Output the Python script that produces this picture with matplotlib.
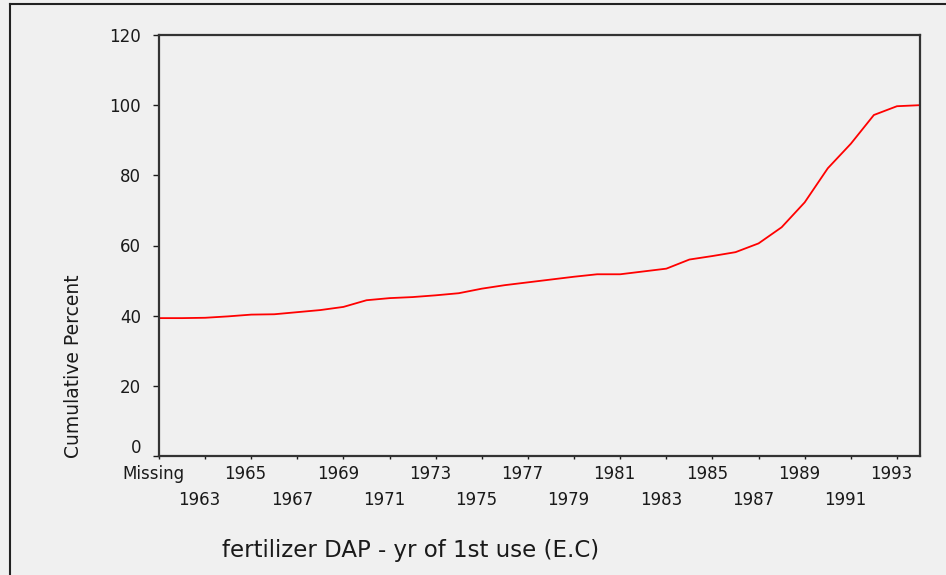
import matplotlib
matplotlib.use("Agg")
import matplotlib.pyplot as plt
import matplotlib.transforms as mtransforms
from matplotlib.lines import Line2D

# categories on the x axis (first one is the missing-value bucket)
categories = ["Missing", "1962", "1963", "1964", "1965", "1966", "1967", "1968",
              "1969", "1970", "1971", "1972", "1973", "1974", "1975", "1976",
              "1977", "1978", "1979", "1980", "1981", "1982", "1983", "1984",
              "1985", "1986", "1987", "1988", "1989", "1990", "1991", "1992",
              "1993", "1994"]

# cumulative percent
cum_percent = [39.3, 39.3, 39.4, 39.8, 40.3, 40.4, 41.0, 41.6, 42.5, 44.4,
               45.0, 45.3, 45.8, 46.4, 47.7, 48.7, 49.5, 50.3, 51.1, 51.8,
               51.8, 52.6, 53.4, 56.0, 57.0, 58.1, 60.6, 65.2, 72.3, 82.0,
               89.0, 97.2, 99.7, 100.0]

y_ticks = [0, 20, 40, 60, 80, 100, 120]

bg = "#f0f0f0"
W, H = 946, 575

plt.rcParams["font.family"] = "DejaVu Sans"

fig = plt.figure(figsize=(W / 100, H / 100), dpi=100, facecolor=bg)
ax = fig.add_axes([159 / W, 1 - 456 / H, (920 - 159) / W, (456 - 35) / H])
ax.set_facecolor(bg)

x = list(range(len(categories)))
ax.plot(x, cum_percent, color="#ff0000", linewidth=1.3)

ax.set_xlim(0, len(categories) - 1)
ax.set_ylim(0, 120)

# y axis
ax.set_yticks(y_ticks)
ax.set_yticklabels([str(v) for v in y_ticks])
ax.tick_params(axis="y", direction="out", length=4, width=1, pad=9,
               labelsize=12, colors="#1a1a1a")
# the zero label sits a little above its tick, clear of "Missing"
lift = mtransforms.ScaledTranslation(0, 7 / 72, fig.dpi_scale_trans)
zero_lab = ax.get_yticklabels()[0]
zero_lab.set_transform(zero_lab.get_transform() + lift)

# x axis: every second category labelled, in two staggered rows
row1 = x[0::4]
row2 = x[2::4]
ax.set_xticks(row1)
ax.set_xticklabels([categories[i] for i in row1])
ax.set_xticks(row2, minor=True)
ax.set_xticklabels([categories[i] for i in row2], minor=True)
ax.tick_params(axis="x", which="major", direction="out", length=2.5, width=1,
               pad=4, labelsize=12, colors="#1a1a1a")
ax.tick_params(axis="x", which="minor", direction="out", length=2.5, width=1,
               pad=23, labelsize=12, colors="#1a1a1a")

shift = mtransforms.ScaledTranslation(-4 / 72, 0, fig.dpi_scale_trans)
for lab in ax.get_xticklabels(which="both"):
    lab.set_transform(lab.get_transform() + shift)

for s in ax.spines.values():
    s.set_color("#333333")
    s.set_linewidth(1.6)

fig.text(73 / W, 1 - 366 / H, "Cumulative Percent", fontsize=13.5,
         color="#1a1a1a", rotation=90, ha="center", va="center")
fig.text(222 / W, 1 - 551 / H, "fertilizer DAP - yr of 1st use (E.C)",
         fontsize=16.5, color="#1a1a1a", ha="left", va="center")

# outer frame (left and top edges visible)
fig.add_artist(Line2D([10 / W, 10 / W], [0, 1 - 4 / H], transform=fig.transFigure,
                      color="#222222", linewidth=1.5))
fig.add_artist(Line2D([10 / W, 1], [1 - 4 / H, 1 - 4 / H], transform=fig.transFigure,
                      color="#222222", linewidth=1.5))

fig.savefig("out.png", dpi=100, facecolor=bg)
